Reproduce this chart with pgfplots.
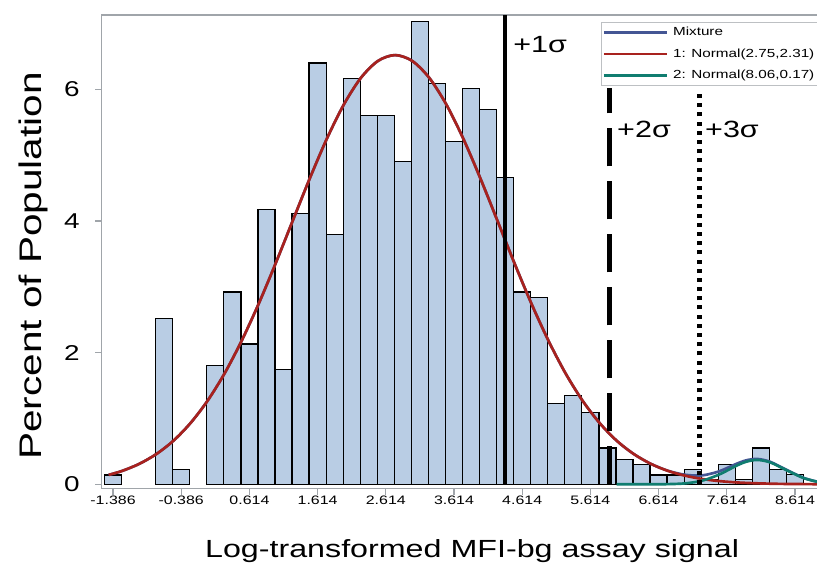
\documentclass[border=0pt]{standalone}
\usepackage{pgfplots}
\pgfplotsset{compat=1.18}
\usepackage{fontspec}
\setmainfont{Liberation Sans}[FakeStretch=1.3]
\definecolor{barfill}{RGB}{185,205,228}
\definecolor{fitred}{RGB}{168,34,30}
\definecolor{fitgreen}{RGB}{16,125,112}
\definecolor{mixblue}{RGB}{68,86,148}
\definecolor{axisgray}{RGB}{160,165,170}
\begin{document}
\begin{tikzpicture}
\begin{axis}[
  scale only axis, width=537.5pt, height=355pt,
  xmin=-1.552, xmax=8.957, ymin=-0.06, ymax=7.13,
  axis line style={axisgray, line width=0.9pt},
  tick style={axisgray, line width=0.9pt},
  tick align=outside, major tick length=5pt,
  tick pos=left,
  xtick={-1.386,-0.386,0.614,1.614,2.614,3.614,4.614,5.614,6.614,7.614,8.614},
  xticklabels={-1.386,-0.386,0.614,1.614,2.614,3.614,4.614,5.614,6.614,7.614,8.614},
  ytick={0,2,4,6}, yticklabels={0,2,4,6},
  xticklabel style={font=\fontsize{9.2}{11}\selectfont, text=black, yshift=3pt},
  yticklabel style={font=\fontsize{16.1}{19}\selectfont, text=black, xshift=-8pt},
  xlabel={Log-transformed MFI-bg assay signal},
  ylabel={Percent of Population},
  xlabel style={font=\fontsize{18.6}{22}\selectfont, at={(axis description cs:0.5168,-0.1473)}, anchor=base},
  ylabel style={font=\fontsize{23.4}{28}\selectfont, at={(axis description cs:-0.0959,0.4697)}, anchor=center},
  legend cell align=left,
  legend image code/.code={\draw[#1] (0pt,0pt) -- (47pt,0pt);},
  legend style={at={(axis description cs:0.6968,0.9852)}, anchor=north west,
    draw=axisgray!70, line width=0.8pt, fill=white,
    font=\fontsize{8.8}{11}\selectfont,
    inner xsep=0.8pt, inner ysep=0.5pt, row sep=2pt,
    nodes={inner xsep=3.8pt, inner ysep=2.5pt, text height=7pt, text depth=2.1pt}},
]
% histogram bars (bin width 0.25)
\addplot[ybar, bar width=0.25, bar shift=0pt, fill=barfill, draw=black, line width=0.9pt, forget plot]
  coordinates {
  (-1.386,0.14) (-0.636,2.52) (-0.386,0.22) (0.114,1.81) (0.364,2.92) (0.614,2.13)
  (0.864,4.18) (1.114,1.74) (1.364,4.11) (1.614,6.40) (1.864,3.79) (2.114,6.17)
  (2.364,5.60) (2.614,5.60) (2.864,4.90) (3.114,7.03) (3.364,6.09) (3.614,5.21)
  (3.864,6.01) (4.114,5.69) (4.364,4.66) (4.614,2.92) (4.864,2.84) (5.114,1.23)
  (5.364,1.35) (5.614,1.09) (5.864,0.55) (6.114,0.38) (6.364,0.30) (6.614,0.14)
  (6.864,0.14) (7.114,0.23) (7.364,0.07) (7.614,0.30) (7.864,0.07) (8.114,0.55)
  (8.364,0.23) (8.614,0.15)
  };
% mixture
\addplot[mixblue, line width=2pt, smooth] coordinates {
  (-1.45,0.143) (-1.25,0.204) (-1.0,0.311) (-0.75,0.460) (-0.5,0.662) (-0.25,0.930)
  (0,1.269) (0.25,1.685) (0.5,2.180) (0.75,2.743) (1.0,3.360) (1.25,4.006) (1.5,4.649)
  (1.75,5.251) (2.0,5.772) (2.25,6.176) (2.5,6.432) (2.75,6.52) (3.0,6.432) (3.25,6.176)
  (3.5,5.772) (3.75,5.251) (4.0,4.649) (4.25,4.006) (4.5,3.360) (4.75,2.743) (5.0,2.180)
  (5.25,1.685) (5.5,1.269) (5.75,0.930) (6.0,0.662) (6.25,0.460) (6.5,0.311) (6.75,0.206)
  (7.0,0.145) (7.25,0.135) (7.5,0.196) (7.75,0.308) (7.9,0.364) (8.06,0.385) (8.25,0.342)
  (8.5,0.214) (8.75,0.094) (8.96,0.035)
};
\addlegendentry{Mixture}
% component 1
\addplot[fitred, line width=2pt, smooth] coordinates {
  (-1.45,0.143) (-1.25,0.204) (-1.0,0.311) (-0.75,0.460) (-0.5,0.662) (-0.25,0.930)
  (0,1.269) (0.25,1.685) (0.5,2.180) (0.75,2.743) (1.0,3.360) (1.25,4.006) (1.5,4.649)
  (1.75,5.251) (2.0,5.772) (2.25,6.176) (2.5,6.432) (2.75,6.52) (3.0,6.432) (3.25,6.176)
  (3.5,5.772) (3.75,5.251) (4.0,4.649) (4.25,4.006) (4.5,3.360) (4.75,2.743) (5.0,2.180)
  (5.25,1.685) (5.5,1.269) (5.75,0.930) (6.0,0.662) (6.25,0.460) (6.5,0.311) (6.75,0.204)
  (7.0,0.131) (7.25,0.081) (7.5,0.049) (7.75,0.029) (8.0,0.017) (8.25,0.009) (8.5,0.005)
  (8.75,0.003) (8.96,0.001)
};
\addlegendentry{1: Normal(2.75,2.31)}
% component 2
\addplot[fitgreen, line width=2pt, smooth] coordinates {
  (6.0,0) (6.5,0.0003) (6.75,0.0024) (7.0,0.0136) (7.25,0.054) (7.5,0.147) (7.75,0.279)
  (7.9,0.343) (8.06,0.37) (8.25,0.333) (8.5,0.209) (8.75,0.091) (8.96,0.034)
};
\addlegendentry{2: Normal(8.06,0.17)}
% sigma reference lines
\addplot[black, line width=3.6pt, forget plot] coordinates {(4.362,0) (4.362,7.13)};
\addplot[black, line width=3.6pt, dash pattern=on 28.5pt off 11.25pt, forget plot] coordinates {(5.891,0) (5.891,6.02)};
\addplot[black, line width=3.4pt, dash pattern=on 3pt off 3.9pt, forget plot] coordinates {(7.211,0) (7.211,5.97)};
\node[anchor=base west, font=\fontsize{17.6}{20}\selectfont, inner sep=0pt] at (axis cs:4.479,6.555) {+1σ};
\node[anchor=base west, font=\fontsize{17.6}{20}\selectfont, inner sep=0pt] at (axis cs:6.004,5.263) {+2σ};
\node[anchor=base west, font=\fontsize{17.6}{20}\selectfont, inner sep=0pt] at (axis cs:7.294,5.263) {+3σ};
\end{axis}
\pgfresetboundingbox
\path[use as bounding box] ([xshift=-76.3pt,yshift=-59.8pt]current axis.south west) rectangle ([xshift=-1pt,yshift=11.2pt]current axis.north east);
\end{tikzpicture}
\end{document}
